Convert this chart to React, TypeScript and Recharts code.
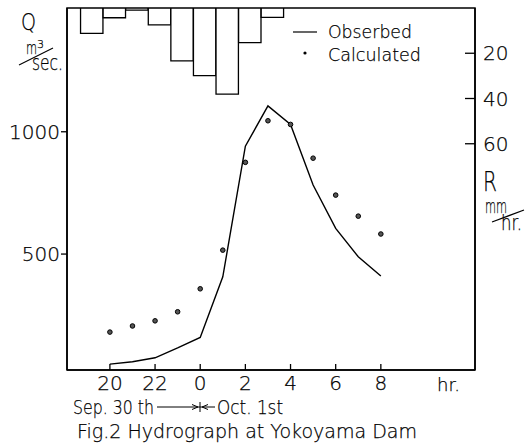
import React from "react";
import {
  ComposedChart,
  Line,
  Scatter,
  Bar,
  XAxis,
  YAxis,
  ReferenceArea,
} from "recharts";

/** Hours counted from Sep. 30th 00:00 (24 = 0h of Oct. 1st). */
const HOURS = [20, 21, 22, 23, 24, 25, 26, 27, 28, 29, 30, 31, 32];
/** Observed discharge, m3/sec. */
const OBSERVED = [50, 60, 76, 116, 159, 407, 941, 1106, 1030, 782, 605, 489, 410];
/** Calculated discharge, m3/sec. */
const CALCULATED = [181, 206, 227, 264, 358, 516, 875, 1045, 1030, 892, 741, 655, 582];

/** Hourly rainfall blocks (mid hour) and intensity, mm/hr. */
const RAIN_HOURS = [19.2, 20.2, 21.2, 22.2, 23.2, 24.2, 25.2, 26.2, 27.2];
const RAIN = [11.2, 4.3, 0.9, 7.5, 23.4, 29.9, 38.1, 15.3, 4.1];

const X_TICKS = [20, 22, 24, 26, 28, 30, 32];
const Q_TICKS = [500, 1000];
const R_TICKS = [20, 40, 60];

const X_DOMAIN: [number, number] = [18.1, 36.17];
const Q_DOMAIN: [number, number] = [26, 1506];
const R_DOMAIN: [number, number] = [0, 160];

const INK = "#000000";
const FONT = "'DejaVu Sans', 'Liberation Sans', sans-serif";

const observedRows = HOURS.map((t, i) => ({ t, q: OBSERVED[i] }));
const calculatedRows = HOURS.map((t, i) => ({ t, q: CALCULATED[i] }));
const rainRows = RAIN_HOURS.map((t, i) => ({ t, r: RAIN[i] }));

const tickStyle = {
  fill: INK,
  fontSize: 20,
  fontFamily: FONT,
  fontWeight: 200,
  stroke: INK,
  strokeWidth: 0.25,
};

function CalcDot(props: { cx?: number; cy?: number }) {
  const { cx, cy } = props;
  if (cx == null || cy == null) return null;
  return <circle cx={cx} cy={cy} r={2.3} fill="#555" stroke={INK} strokeWidth={1} />;
}

function Annotations() {
  const txt = { fill: INK, fontFamily: FONT, fontWeight: 200, stroke: INK, strokeWidth: 0.25 } as const;
  return (
    <svg
      width={528}
      height={443}
      style={{ position: "absolute", left: 0, top: 0, pointerEvents: "none" }}
    >
      {/* left axis unit */}
      <text x={21} y={30} fontSize={23} {...txt} textLength={15} lengthAdjust="spacingAndGlyphs">Q</text>
      <text x={26} y={54} fontSize={18} {...txt} textLength={11} lengthAdjust="spacingAndGlyphs">m</text>
      <text x={37} y={48} fontSize={11} {...txt}>3</text>
      <line x1={19} y1={65} x2={53} y2={48} stroke={INK} strokeWidth={1.2} />
      <text x={32} y={70} fontSize={21} {...txt} textLength={31} lengthAdjust="spacingAndGlyphs">sec.</text>

      {/* right axis unit */}
      <text x={483} y={191} fontSize={27} {...txt} textLength={14} lengthAdjust="spacingAndGlyphs">R</text>
      <text x={485} y={213} fontSize={19} {...txt} textLength={22} lengthAdjust="spacingAndGlyphs">mm</text>
      <line x1={492} y1={222} x2={524} y2={210} stroke={INK} strokeWidth={1.2} />
      <text x={501} y={230} fontSize={22} {...txt} textLength={21} lengthAdjust="spacingAndGlyphs">hr.</text>

      {/* legend */}
      <line x1={293} y1={32} x2={317} y2={32} stroke={INK} strokeWidth={1.2} />
      <text x={328} y={37.5} fontSize={18} {...txt} textLength={84} lengthAdjust="spacingAndGlyphs">Obserbed</text>
      <circle cx={305} cy={53} r={1.6} fill={INK} />
      <text x={328} y={60.5} fontSize={18} {...txt} textLength={93} lengthAdjust="spacingAndGlyphs">Calculated</text>

      {/* time axis notes */}
      <text x={437} y={391} fontSize={18} {...txt} textLength={23} lengthAdjust="spacingAndGlyphs">hr.</text>
      <text x={73} y={414} fontSize={20} {...txt} textLength={81} lengthAdjust="spacingAndGlyphs">Sep. 30 th</text>
      <line x1={157} y1={407} x2={215} y2={407} stroke={INK} strokeWidth={1} />
      <line x1={200} y1={402} x2={200} y2={412} stroke={INK} strokeWidth={1} />
      <path d="M192,404.5 L198,407 L192,409.5 M208,404.5 L202,407 L208,409.5" fill="none" stroke={INK} strokeWidth={1} />
      <text x={217} y={414} fontSize={20} {...txt} textLength={66} lengthAdjust="spacingAndGlyphs">Oct. 1st</text>
      <text x={77} y={438} fontSize={20} {...txt} textLength={340} lengthAdjust="spacingAndGlyphs">Fig.2  Hydrograph at Yokoyama Dam</text>
    </svg>
  );
}

export default function App() {
  return (
    <div style={{ position: "absolute", left: 0, top: 0, width: 528, height: 443, background: "#fff" }}>
      <ComposedChart
        width={528}
        height={443}
        data={rainRows}
        margin={{ top: 8, right: 0, bottom: 0, left: 0 }}
      >
        <XAxis
          dataKey="t"
          type="number"
          domain={X_DOMAIN}
          ticks={X_TICKS}
          interval={0}
          allowDataOverflow
          tickFormatter={(h: number) => String(h % 24)}
          height={73}
          tickSize={-6}
          tickMargin={12}
          tick={tickStyle}
          axisLine={{ stroke: INK, strokeWidth: 1.5 }}
          tickLine={{ stroke: INK, strokeWidth: 1.3 }}
        />
        {/* hidden axis carrying only the hourly rain blocks */}
        <XAxis
          xAxisId="rain"
          orientation="top"
          dataKey="t"
          type="number"
          domain={X_DOMAIN}
          allowDataOverflow
          height={0}
          tick={false}
          tickLine={false}
          axisLine={false}
        />
        <YAxis
          yAxisId="q"
          type="number"
          domain={Q_DOMAIN}
          ticks={Q_TICKS}
          allowDataOverflow
          width={67}
          tickSize={6}
          tickMargin={1}
          tick={tickStyle}
          axisLine={{ stroke: INK, strokeWidth: 1.5 }}
          tickLine={{ stroke: INK, strokeWidth: 1.3 }}
        />
        <YAxis
          yAxisId="r"
          orientation="right"
          type="number"
          reversed
          domain={R_DOMAIN}
          ticks={R_TICKS}
          allowDataOverflow
          width={53}
          tickSize={-10}
          tickMargin={18}
          tick={tickStyle}
          axisLine={{ stroke: INK, strokeWidth: 1.5 }}
          tickLine={{ stroke: INK, strokeWidth: 1.3 }}
        />
        <ReferenceArea
          yAxisId="q"
          x1={X_DOMAIN[0]}
          x2={X_DOMAIN[1]}
          y1={Q_DOMAIN[0]}
          y2={Q_DOMAIN[1]}
          fill="#fff"
          fillOpacity={0}
          stroke={INK}
          strokeWidth={1.5}
          ifOverflow="visible"
        />
        <Bar
          xAxisId="rain"
          yAxisId="r"
          dataKey="r"
          barSize={22.4}
          fill="#fff"
          stroke={INK}
          strokeWidth={1.3}
          isAnimationActive={false}
        />
        <Line
          yAxisId="q"
          data={observedRows}
          dataKey="q"
          type="linear"
          stroke={INK}
          strokeWidth={1.4}
          dot={false}
          isAnimationActive={false}
        />
        <Scatter
          yAxisId="q"
          data={calculatedRows}
          dataKey="q"
          shape={<CalcDot />}
          isAnimationActive={false}
        />
      </ComposedChart>
      <Annotations />
    </div>
  );
}
